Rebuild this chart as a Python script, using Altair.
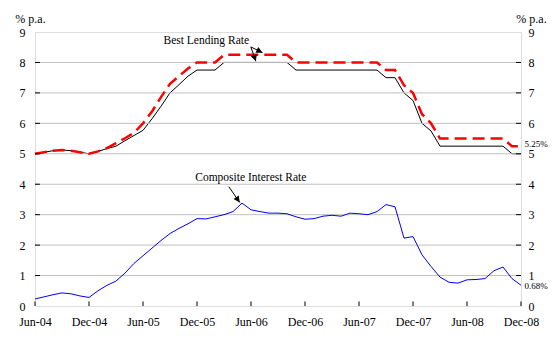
import json
import altair as alt
import pandas as pd

FONT = "Liberation Serif"

tick_labels = ["Jun-04", "Dec-04", "Jun-05", "Dec-05", "Jun-06", "Dec-06",
               "Jun-07", "Dec-07", "Jun-08", "Dec-08"]

# monthly index: 0 = Jun-04 ... 54 = Dec-08
blr_low = [5.0, 5.05, 5.1, 5.125, 5.1, 5.05, 5.0, 5.08, 5.17, 5.25,
           5.43, 5.6, 5.77, 6.15, 6.56, 7.0, 7.27, 7.55, 7.75, 7.75,
           7.75, 8.0, 8.0, 8.0, 8.0, 8.0, 8.0, 8.0, 8.0, 7.75,
           7.75, 7.75, 7.75, 7.75, 7.75, 7.75, 7.75, 7.75, 7.75, 7.5,
           7.5, 7.0, 6.75, 6.0, 5.75, 5.25, 5.25, 5.25, 5.25, 5.25,
           5.25, 5.25, 5.25, 5.0, 5.0]
blr_high = [5.0, 5.05, 5.1, 5.125, 5.1, 5.05, 5.0, 5.08, 5.19, 5.35,
            5.51, 5.69, 6.0, 6.39, 6.86, 7.3, 7.55, 7.8, 8.0, 8.0,
            8.0, 8.25, 8.25, 8.25, 8.25, 8.25, 8.25, 8.25, 8.25, 8.0,
            8.0, 8.0, 8.0, 8.0, 8.0, 8.0, 8.0, 8.0, 8.0, 7.75,
            7.75, 7.25, 7.0, 6.3, 6.0, 5.5, 5.5, 5.5, 5.5, 5.5,
            5.5, 5.5, 5.5, 5.25, 5.25]
cir = [0.23, 0.30, 0.37, 0.43, 0.40, 0.33, 0.28, 0.50, 0.68, 0.82,
       1.08, 1.40, 1.65, 1.90, 2.15, 2.38, 2.55, 2.70, 2.87, 2.86,
       2.93, 3.00, 3.10, 3.38, 3.16, 3.10, 3.05, 3.05, 3.03, 2.93,
       2.85, 2.87, 2.95, 2.98, 2.95, 3.05, 3.03, 3.00, 3.10, 3.33,
       3.26, 2.23, 2.28, 1.68, 1.30, 0.95, 0.78, 0.75, 0.86, 0.87,
       0.90, 1.16, 1.28, 0.90, 0.68]

months = list(range(len(cir)))
tick_months = list(range(0, 55, 6))
y_ticks = list(range(0, 10))
grid_vals = list(range(1, 9))

df = pd.DataFrame({"m": months, "low": blr_low, "high": blr_high, "cir": cir})

xdom = alt.Scale(domain=[0, 54], nice=False, zero=False)
ydom = alt.Scale(domain=[0, 9], nice=False)

label_expr = json.dumps(tick_labels) + "[round(datum.value/6)]"
x_axis = alt.Axis(values=tick_months, labelExpr=label_expr, ticks=False, domain=False,
                  grid=False, title=None, labelFont=FONT, labelFontSize=12,
                  labelPadding=10, labelFlush=False, labelOverlap=False, labelColor="black")
y_left = alt.Axis(values=y_ticks, orient="left", ticks=False, domain=False, grid=False,
                  title="% p.a.", titleAngle=0, titleX=-5, titleY=-14, titleAlign="center",
                  titleBaseline="middle", titleFont=FONT, titleFontSize=12,
                  titleFontWeight="normal", titleColor="black",
                  labelFont=FONT, labelFontSize=12, labelPadding=10, labelColor="black")
y_right = alt.Axis(values=y_ticks, orient="right", ticks=False, domain=False, grid=False,
                   title="% p.a.", titleAngle=0, titleX=10, titleY=-14, titleAlign="center",
                   titleBaseline="middle", titleFont=FONT, titleFontSize=12,
                   titleFontWeight="normal", titleColor="black",
                   labelFont=FONT, labelFontSize=12, labelPadding=7, labelColor="black")

X = lambda f: alt.X(f, scale=xdom, title=None)

grid = alt.Chart(pd.DataFrame({"v": grid_vals})).mark_rule(color="#C0C0C0", strokeWidth=1).encode(
    y=alt.Y("v:Q", scale=ydom, axis=y_right)
)

low_line = alt.Chart(df).mark_line(color="black", strokeWidth=1).encode(
    x=alt.X("m:Q", scale=xdom, axis=x_axis),
    y=alt.Y("low:Q", scale=ydom, axis=y_left),
)
high_line = alt.Chart(df).mark_line(color="#FF0000", strokeWidth=2.5, strokeDash=[12, 6]).encode(
    x=X("m:Q"),
    y=alt.Y("high:Q", scale=ydom, axis=None),
)
cir_line = alt.Chart(df).mark_line(color="#0000FF", strokeWidth=1).encode(
    x=X("m:Q"),
    y=alt.Y("cir:Q", scale=ydom, axis=None),
)

# inward ticks
xt = pd.DataFrame({"m": tick_months, "y0": [0] * len(tick_months), "y1": [0.15] * len(tick_months)})
x_ticks = alt.Chart(xt).mark_rule(color="black").encode(
    x=X("m:Q"),
    y=alt.Y("y0:Q", scale=ydom, axis=None),
    y2="y1:Q",
)
lt = pd.DataFrame({"v": grid_vals, "a": [0] * 8, "b": [0.55] * 8,
                   "c": [54] * 8, "d": [53.45] * 8})
l_ticks = alt.Chart(lt).mark_rule(color="black").encode(
    x=X("a:Q"), x2="b:Q",
    y=alt.Y("v:Q", scale=ydom, axis=None),
)
r_ticks = alt.Chart(lt).mark_rule(color="black").encode(
    x=X("c:Q"), x2="d:Q",
    y=alt.Y("v:Q", scale=ydom, axis=None),
)

# annotations
ann_text = pd.DataFrame({
    "m": [19.03, 23.98],
    "v": [8.69, 4.2],
    "t": ["Best Lending Rate", "Composite Interest Rate"],
})
texts = alt.Chart(ann_text).mark_text(font=FONT, fontSize=11.5, color="black",
                                      align="center", baseline="middle").encode(
    x=X("m:Q"),
    y=alt.Y("v:Q", scale=ydom, axis=None),
    text="t:N",
)
end_text = pd.DataFrame({"m": [54.4, 54.4], "v": [5.32, 0.66], "t": ["5.25%", "0.68%"]})
end_labels = alt.Chart(end_text).mark_text(font=FONT, fontSize=9, color="black",
                                           align="left", baseline="middle").encode(
    x=X("m:Q"),
    y=alt.Y("v:Q", scale=ydom, axis=None),
    text="t:N",
)

arrows = pd.DataFrame({
    "m1": [23.98, 23.98, 21.53],
    "v1": [8.51, 8.51, 3.92],
    "m2": [25.28, 24.54, 22.75],
    "v2": [8.32, 8.04, 3.40],
    "ang": [117, 161, 145],
})
arrow_lines = alt.Chart(arrows).mark_rule(color="black", strokeWidth=1).encode(
    x=X("m1:Q"),
    y=alt.Y("v1:Q", scale=ydom, axis=None),
    x2="m2:Q", y2="v2:Q",
)
arrow_heads = alt.Chart(arrows).mark_point(
    shape="M0,0L-0.5,1L0.5,1Z", filled=True, color="black", size=160, opacity=1
).encode(
    x=X("m2:Q"),
    y=alt.Y("v2:Q", scale=ydom, axis=None),
    angle=alt.Angle("ang:Q", scale=None),
)

chart = alt.layer(
    low_line, grid, high_line, cir_line, x_ticks, l_ticks, r_ticks,
    arrow_lines, arrow_heads, texts, end_labels,
).resolve_scale(y="independent").properties(
    width=486, height=274,
    autosize=alt.AutoSizeParams(type="none"),
    padding={"left": 35, "top": 32, "right": 36, "bottom": 37},
).configure_view(
    stroke="black", strokeWidth=1
).configure(font=FONT, background="white")

chart.save("out.html", embed_options={"renderer": "svg", "actions": False})
